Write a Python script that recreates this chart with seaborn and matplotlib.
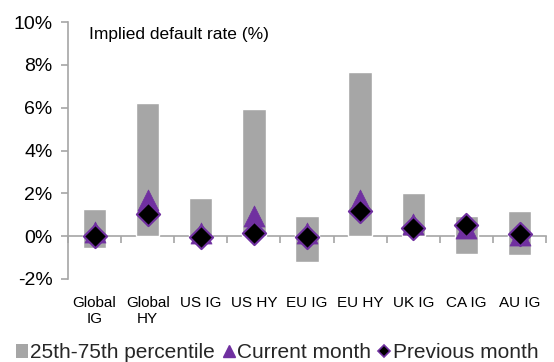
import numpy as np
import pandas as pd
import matplotlib
matplotlib.use("Agg")
import matplotlib.pyplot as plt
from matplotlib.lines import Line2D
from matplotlib.patches import Patch
from matplotlib.ticker import PercentFormatter
import seaborn as sns

# Implied default rates by market (%)
categories = ["Global\nIG", "Global\nHY", "US IG", "US HY", "EU IG",
              "EU HY", "UK IG", "CA IG", "AU IG"]
pct25 = [-0.57, 0.0, 0.0, 0.0, -1.20, 0.0, 0.0, -0.81, -0.89]
pct75 = [1.25, 6.20, 1.80, 5.92, 0.93, 7.66, 2.00, 0.93, 1.18]
current_month = [0.20, 1.70, 0.15, 0.95, 0.15, 1.70, 0.55, 0.38, 0.05]
previous_month = [0.00, 1.05, -0.05, 0.15, -0.03, 1.18, 0.40, 0.50, 0.12]

df = pd.DataFrame({
    "market": categories,
    "low": pct25,
    "span": np.array(pct75) - np.array(pct25),
    "current": current_month,
    "previous": previous_month,
})

sns.set_theme(style="white")
plt.rcParams["font.family"] = ["Liberation Sans", "DejaVu Sans"]
plt.rcParams["axes.unicode_minus"] = False

GREY = "#A6A6A6"
PURPLE = "#7030A0"
AXIS = "#A6A6A6"

fig = plt.figure(figsize=(5.54, 3.62), dpi=100)
ax = fig.add_axes([0.1227, 0.2293, 0.863, 0.7099])

# interquartile range as floating bars
sns.barplot(data=df, x="market", y="span", bottom=df["low"], color=GREY,
            width=0.44, saturation=1, ax=ax, zorder=2)
sns.scatterplot(data=df, x="market", y="current", marker="^", s=230,
                color=PURPLE, edgecolor=PURPLE, linewidth=0.5, ax=ax, zorder=3)
sns.scatterplot(data=df, x="market", y="previous", marker="D", s=140,
                color="black", edgecolor=PURPLE, linewidth=1.5, ax=ax, zorder=4)

ax.set_xlim(-0.5, len(categories) - 0.5)
ax.set_ylim(-2, 10)
ax.set_yticks(np.arange(-2, 11, 2))
ax.yaxis.set_major_formatter(PercentFormatter(decimals=0))
ax.set_xlabel("")
ax.set_ylabel("")

for side in ("top", "right", "bottom"):
    ax.spines[side].set_visible(False)
ax.spines["left"].set_color(AXIS)
ax.spines["left"].set_linewidth(1.2)

ax.tick_params(axis="y", left=True, length=5, width=1.2, color=AXIS,
               labelsize=14, labelcolor="black", pad=6)
ax.tick_params(axis="x", bottom=False, labelsize=11, labelcolor="black", pad=6)
for lbl in ax.get_xticklabels():
    lbl.set_linespacing(1.25)

# horizontal category axis drawn through zero
zero_axis = ax.secondary_xaxis(2 / 12)
zero_axis.set_xticks(np.arange(len(categories) + 1) - 0.5)
zero_axis.tick_params(axis="x", direction="out", length=5, width=1.2,
                      color=AXIS, labelbottom=False)
zero_axis.spines["bottom"].set_color(AXIS)
zero_axis.spines["bottom"].set_linewidth(1.2)
zero_axis.set_zorder(1)

ax.text(0.045, 0.98, "Implied default rate (%)", transform=ax.transAxes,
        ha="left", va="top", fontsize=12.5, color="black")

handles = [
    Patch(facecolor=GREY, edgecolor="none", label="25th-75th percentile"),
    Line2D([], [], marker="^", linestyle="none", color=PURPLE,
           markersize=8, label="Current month"),
    Line2D([], [], marker="D", linestyle="none", color="black",
           markeredgecolor=PURPLE, markeredgewidth=1.2, markersize=6,
           label="Previous month"),
]
fig.legend(handles=handles, loc="center", bbox_to_anchor=(0.5, 0.025),
           ncol=3, frameon=False, fontsize=15, handlelength=0.6,
           handleheight=0.6, handletextpad=0.1, columnspacing=0.35,
           borderaxespad=0, borderpad=0)

fig.savefig("out.png", dpi=100)
